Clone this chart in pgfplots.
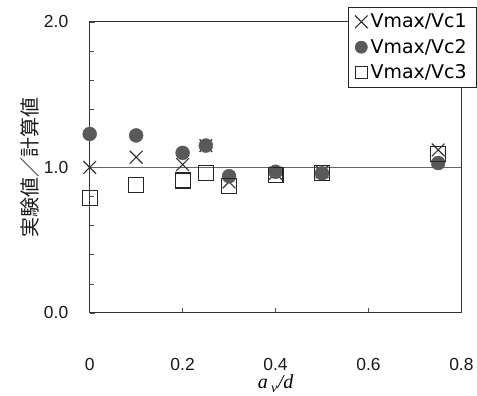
\documentclass[border=0pt]{standalone}
\usepackage{fontspec}
\setmainfont{Liberation Sans}
\newfontfamily\cjk{Noto Sans CJK JP}
\newfontfamily\dvs{DejaVu Sans}
\newfontfamily\tms{Liberation Serif}
\usepackage{pgfplots}
\pgfplotsset{compat=1.18}
\begin{document}
\begin{tikzpicture}
\path (-90pt,-83pt) rectangle (387pt,314pt);
\begin{axis}[
 at={(0,0)}, anchor=south west,
 scale only axis, width=373pt, height=292pt,
 xmin=0, xmax=0.8, ymin=0, ymax=2,
 xtick={0,0.2,0.4,0.6,0.8}, xticklabels={0,0.2,0.4,0.6,0.8},
 ytick={0,1,2}, yticklabels={0.0,1.0,2.0},
 minor ytick={0.2,0.4,0.6,0.8,1.2,1.4,1.6,1.8},
 xtick pos=bottom, ytick pos=left,
 tick align=inside, major tick length=5pt, minor tick length=4pt,
 tick style={black!70, line width=0.6pt},
 axis line style={line width=1pt, black!80},
 ticklabel style={font=\fontsize{17.5}{19}\selectfont, text=black!90},
 xticklabel style={yshift=-42pt},
 yticklabel style={xshift=-18pt},
 xlabel={{\tms\itshape a\,\raisebox{-0.45ex}{\fontsize{14}{15}\selectfont v}\kern0.5pt/d}},
 xlabel style={at={(axis description cs:0.5,-0.243)}, anchor=center, font=\fontsize{20}{22}\selectfont},
 ylabel={\cjk 実験値／計算値},
 ylabel style={at={(axis description cs:-0.161,0.5)}, anchor=center, font=\fontsize{20}{22}\selectfont, text=black!90},
 legend style={at={(1.042,1.052)}, anchor=north east, draw=black!85, line width=0.8pt, fill=white,
   font=\dvs\fontsize{19}{22}\selectfont, row sep=6pt, inner xsep=7pt, inner ysep=5pt,
   nodes={inner xsep=3pt}},
 legend cell align=left,
 clip=false,
]
\addplot[black!60, line width=0.6pt, forget plot] coordinates {(0,1) (0.8,1)};
\addlegendimage{only marks, mark=x, mark size=9pt, line width=1.2pt, black!80}
\addlegendentry{Vmax/Vc1}
\addlegendimage{only marks, mark=*, mark size=6pt, mark options={fill=black!65, draw=black!65}}
\addlegendentry{Vmax/Vc2}
\addlegendimage{only marks, mark=square, mark size=6pt, line width=1.1pt, black!85}
\addlegendentry{Vmax/Vc3}
\addplot[forget plot, only marks, mark=x, mark size=9pt, line width=1.2pt, black!80] coordinates {
 (0,1.0) (0.1,1.07) (0.2,1.02) (0.25,1.15) (0.3,0.90) (0.4,0.96) (0.5,0.97) (0.75,1.12)};
\addplot[forget plot, only marks, mark=*, mark size=7pt, mark options={fill=black!65, draw=black!65}] coordinates {
 (0,1.23) (0.1,1.22) (0.2,1.10) (0.25,1.15) (0.3,0.94) (0.4,0.97) (0.5,0.96) (0.75,1.03)};
\addplot[forget plot, only marks, mark=square, mark size=7.5pt, line width=1.1pt, black!85] coordinates {
 (0,0.79) (0.1,0.88) (0.2,0.91) (0.25,0.96) (0.3,0.87) (0.4,0.95) (0.5,0.96) (0.75,1.09)};
\end{axis}
\end{tikzpicture}
\end{document}
